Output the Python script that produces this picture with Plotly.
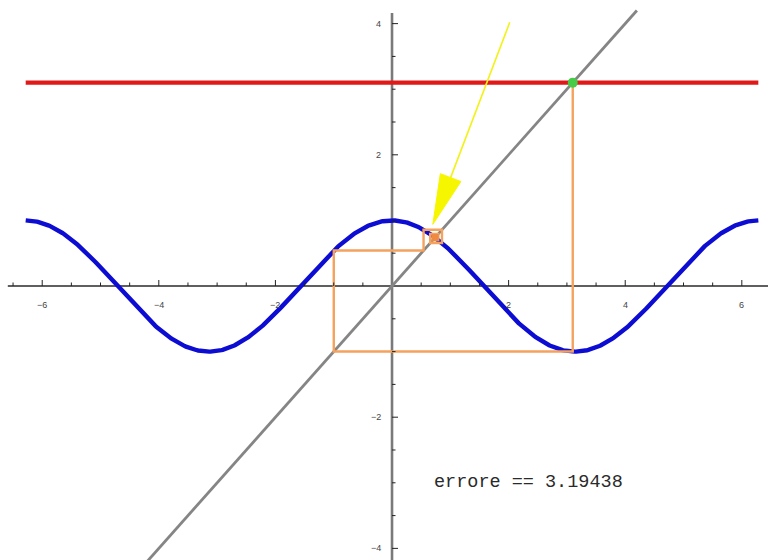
import numpy as np
import plotly.graph_objects as go

# --- data -----------------------------------------------------------------
# fixed-point iteration x_{n+1} = cos(x_n), starting from x0 = 3.1
iterates = [3.1, -0.999135, 0.541030, 0.857179, 0.654573, 0.793308, 0.701492,
            0.763881, 0.722157, 0.750382, 0.731429, 0.744220, 0.735616,
            0.741417, 0.737512, 0.740143, 0.738369, 0.739567]
level_y = 3.1                # horizontal reference level
start_point = (3.1, 3.1)
diag_span = [-4.2, 4.2]      # extent of the y = x line
curve_span = [-2 * np.pi, 2 * np.pi]

x_ticks_major = [-6, -4, -2, 2, 4, 6]
y_ticks_major = [-4, -2, 2, 4]
x_tick_labels = ["\u22126", "\u22124", "\u22122", "2", "4", "6"]
y_tick_labels = ["\u22124", "\u22122", "2", "4"]
x_ticks_minor = [v / 2 for v in range(-13, 14) if v != 0]
y_ticks_minor = [v / 2 for v in range(-8, 9) if v != 0]

error_text = "errore == 3.19438"

arrow_tail = (2.02, 4.02)
arrow_tip = (0.70, 0.94)

# --- layout geometry ------------------------------------------------------
W, H = 768, 560
XR = [-6.724, 6.449]
YR = [-4.177, 4.360]
sx = W / (XR[1] - XR[0])   # px per x unit
sy = H / (YR[1] - YR[0])   # px per y unit

fig = go.Figure()

# axes
fig.add_trace(go.Scatter(x=[-6.59, XR[1]], y=[0, 0], mode="lines",
                         line=dict(color="#2a2a2a", width=1.4), hoverinfo="skip"))
fig.add_trace(go.Scatter(x=[0, 0], y=[YR[0], 4.16], mode="lines",
                         line=dict(color="#7a7a7a", width=2.6), hoverinfo="skip"))

shapes = []
for v in x_ticks_minor:
    L = 6 if v in x_ticks_major else 3.5
    shapes.append(dict(type="line", xref="x", yref="y", ysizemode="pixel", yanchor=0,
                       x0=v, x1=v, y0=0, y1=L, line=dict(color="#222", width=1)))
for v in y_ticks_minor:
    L = 6 if v in y_ticks_major else 3.5
    shapes.append(dict(type="line", xref="x", yref="y", xsizemode="pixel", xanchor=0,
                       x0=0, x1=L, y0=v, y1=v, line=dict(color="#222", width=1)))

# cosine curve
xc = np.linspace(curve_span[0], curve_span[1], 600)
fig.add_trace(go.Scatter(x=xc, y=np.cos(xc), mode="lines",
                         line=dict(color="#0c0cd2", width=4.4), hoverinfo="skip"))

# y = x
fig.add_trace(go.Scatter(x=diag_span, y=diag_span, mode="lines",
                         line=dict(color="#858585", width=2.8), hoverinfo="skip"))

# horizontal level line
fig.add_trace(go.Scatter(x=curve_span, y=[level_y, level_y], mode="lines",
                         line=dict(color="#e01818", width=4.2), hoverinfo="skip"))

# cobweb path
cx, cy = [iterates[0]], [iterates[0]]
for a, b in zip(iterates[:-1], iterates[1:]):
    cx += [a, b]
    cy += [b, b]
fig.add_trace(go.Scatter(x=cx, y=cy, mode="lines",
                         line=dict(color="#f4a25e", width=2.4), hoverinfo="skip"))
fig.add_trace(go.Scatter(x=[iterates[-1]], y=[iterates[-1]], mode="markers",
                         marker=dict(color="#f08a40", size=7, symbol="square"),
                         hoverinfo="skip"))

# starting point
fig.add_trace(go.Scatter(x=[start_point[0]], y=[start_point[1]], mode="markers",
                         marker=dict(color="#46cc46", size=10), hoverinfo="skip"))

# yellow arrow: shaft + head
tx, ty = arrow_tail
hx, hy = arrow_tip
dxp, dyp = (hx - tx) * sx, (hy - ty) * sy
n = np.hypot(dxp, dyp)
ux, uy = dxp / n, dyp / n
head_len, head_half = 50, 11
bx, by = -ux * head_len, -uy * head_len
p1 = (hx + (bx + uy * head_half) / sx, hy + (by - ux * head_half) / sy)
p2 = (hx + (bx - uy * head_half) / sx, hy + (by + ux * head_half) / sy)
base = (hx + bx / sx, hy + by / sy)
fig.add_trace(go.Scatter(x=[tx, base[0]], y=[ty, base[1]], mode="lines",
                         line=dict(color="#f2f21a", width=1.6), hoverinfo="skip"))
fig.add_trace(go.Scatter(x=[hx, p1[0], p2[0], hx], y=[hy, p1[1], p2[1], hy],
                         mode="lines", fill="toself", fillcolor="#f6f600",
                         line=dict(color="#f6f600", width=1), hoverinfo="skip"))

annotations = []
for v, t in zip(x_ticks_major, x_tick_labels):
    annotations.append(dict(x=v, y=0, text=t, showarrow=False, yanchor="middle",
                            yshift=-19, font=dict(family="Liberation Sans", size=9, color="#444")))
for v, t in zip(y_ticks_major, y_tick_labels):
    annotations.append(dict(x=0, y=v, text=t, showarrow=False, xanchor="right",
                            xshift=-9, font=dict(family="Liberation Sans", size=9, color="#444")))
annotations.append(dict(x=2.34, y=-3.0, text=error_text, showarrow=False,
                        font=dict(family="Liberation Mono", size=18.5, color="#2a2a2a")))

fig.update_layout(
    width=W, height=H, margin=dict(l=0, r=0, t=0, b=0),
    paper_bgcolor="white", plot_bgcolor="white", showlegend=False,
    xaxis=dict(range=XR, visible=False, fixedrange=True),
    yaxis=dict(range=YR, visible=False, fixedrange=True),
    shapes=shapes, annotations=annotations,
)

fig.write_html("out.html")
